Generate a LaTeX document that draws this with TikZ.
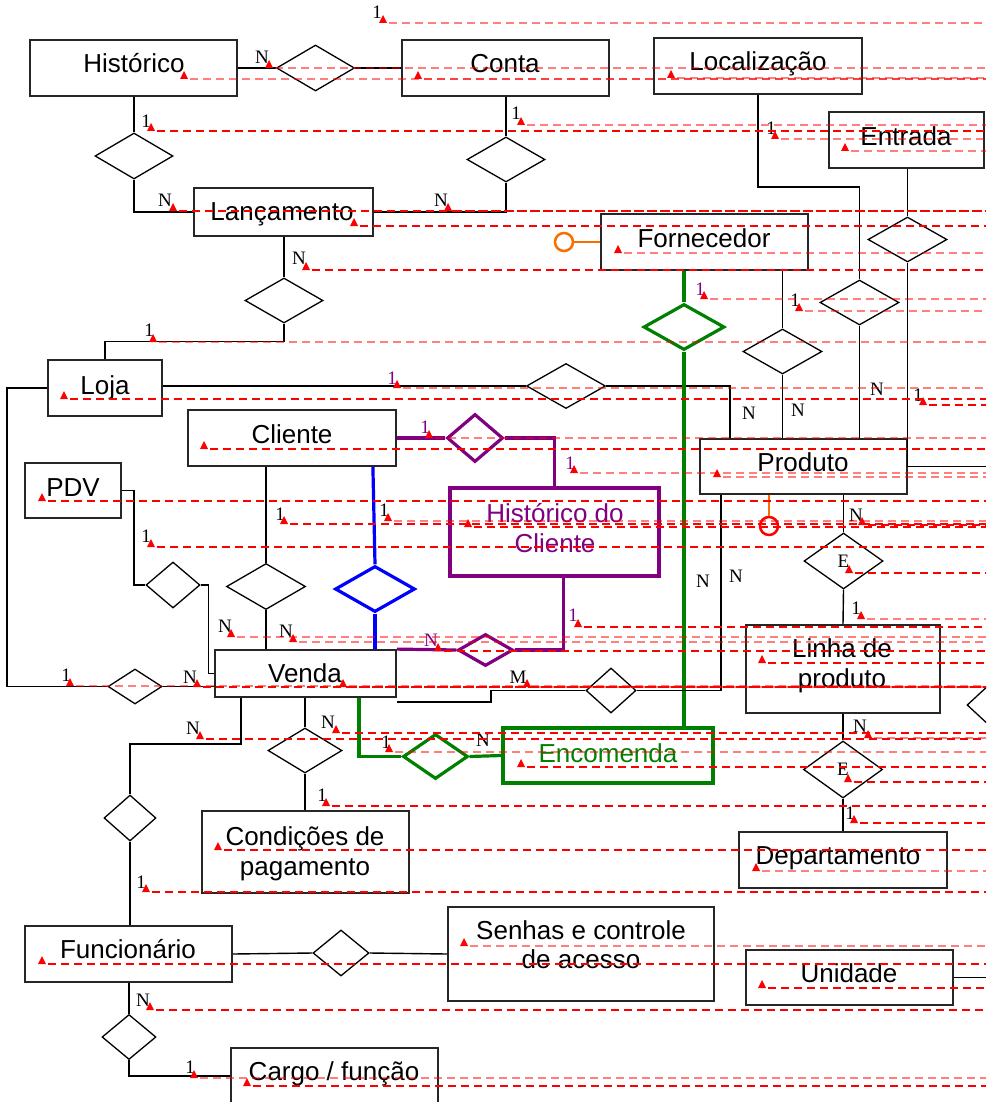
\documentclass[tikz,border=0pt]{standalone}
\usepackage{fontspec}
\usetikzlibrary{shapes.geometric,calc}
\newfontfamily\arialf{Liberation Sans}
\newfontfamily\timesf{Liberation Serif}
\definecolor{erpurple}{RGB}{128,0,128}
\definecolor{ergreen}{RGB}{0,128,0}
\definecolor{erblue}{RGB}{0,0,255}
\definecolor{erorange}{RGB}{250,110,0}
\definecolor{notedark}{RGB}{255,0,0}
\tikzset{
  ent/.style={draw=black!85, line width=1.8pt, rectangle, inner sep=0pt},
  rel/.style={draw=black, line width=1.3pt, diamond, inner sep=0pt,
              font=\timesf\fontsize{19}{19}\selectfont},
  wire/.style={line width=1.4pt},
  thick wire/.style={line width=3.2pt},
  etxt/.style={font=\arialf\fontsize{26}{30}\selectfont, inner sep=0pt, anchor=base},
  card/.style={font=\timesf\fontsize{19}{19}\selectfont, inner sep=0pt},
  notedash/.style={line width=1.3pt, dash pattern=on 8pt off 5pt},
  noteL/.style={draw=notedark, draw opacity=0.5},
  noteD/.style={draw=notedark},
}
\begin{document}
\begin{tikzpicture}[x=1pt, y=-1pt]
\useasboundingbox (0,0) rectangle (986,1102);
\fill[white] (0,0) rectangle (986,1102);
\clip (0,0) rectangle (986,1102);
\coordinate (rim) at (986,0);

% ---------- entities ----------
\node[ent, minimum width=207pt, minimum height=56pt] (hist) at (133.5,68) {};
\node[etxt] (t-hist) at (134,73) {Histórico};
\node[ent, minimum width=207pt, minimum height=56pt] (conta) at (505.5,68) {};
\node[etxt] (t-conta) at (505,73) {Conta};
\node[ent, minimum width=208pt, minimum height=56pt] (local) at (758,66) {};
\node[etxt] (t-local) at (758,71) {Localização};
\node[ent, minimum width=155pt, minimum height=56pt] (entrada) at (906.5,140) {};
\node[etxt] (t-entrada) at (906,146) {Entrada};
\node[ent, minimum width=179pt, minimum height=48pt] (lanc) at (283.5,212) {};
\node[etxt] (t-lanc) at (282,220) {Lançamento};
\node[ent, minimum width=207pt, minimum height=56pt] (forn) at (704.5,242) {};
\node[etxt] (t-forn) at (704,247) {Fornecedor};
\node[ent, minimum width=114pt, minimum height=56pt] (loja) at (105,388) {};
\node[etxt] (t-loja) at (105,394) {Loja};
\node[ent, minimum width=208pt, minimum height=56pt] (cliente) at (292,438) {};
\node[etxt] (t-cliente) at (292,443) {Cliente};
\node[ent, minimum width=96pt, minimum height=55pt] (pdv) at (73,490.5) {};
\node[etxt] (t-pdv) at (73,496) {PDV};
\node[ent, minimum width=207pt, minimum height=55pt] (produto) at (803.5,466.5) {};
\node[etxt] (t-produto) at (803,471) {Produto};
\node[ent, draw=erpurple, line width=3.2pt, minimum width=209pt, minimum height=88pt] (histcli) at (554.5,532) {};
\node[etxt, text=erpurple] (t-histcli-a) at (555,522) {Histórico do};
\node[etxt, text=erpurple] (t-histcli-b) at (555,552) {Cliente};
\node[ent, minimum width=194pt, minimum height=88pt] (linha) at (843,669) {};
\node[etxt] (t-linha-a) at (842,657) {Linha de};
\node[etxt] (t-linha-b) at (842,687) {produto};
\node[ent, minimum width=181pt, minimum height=47pt] (venda) at (305.5,673.5) {};
\node[etxt] (t-venda) at (305,682) {Venda};
\node[ent, draw=ergreen, line width=3.2pt, minimum width=210pt, minimum height=55pt] (encomenda) at (608,755.5) {};
\node[etxt, text=ergreen] (t-encomenda) at (608,762) {Encomenda};
\node[ent, minimum width=207pt, minimum height=82pt] (condicoes) at (305.5,852) {};
\node[etxt] (t-cond-a) at (305,845) {Condições de};
\node[etxt] (t-cond-b) at (305,875) {pagamento};
\node[ent, minimum width=208pt, minimum height=56pt] (depto) at (843,860) {};
\node[etxt] (t-depto) at (838,864) {Departamento};
\node[ent, minimum width=207pt, minimum height=56pt] (func) at (128.5,954) {};
\node[etxt] (t-func) at (128,958) {Funcionário};
\node[ent, minimum width=266pt, minimum height=94pt] (senhas) at (581,954) {};
\node[etxt] (t-senhas-a) at (581,939) {Senhas e controle};
\node[etxt] (t-senhas-b) at (581,968) {de acesso};
\node[ent, minimum width=207pt, minimum height=55pt] (unidade) at (849.5,977.5) {};
\node[etxt] (t-unidade) at (849,982) {Unidade};
\node[ent, minimum width=207pt, minimum height=56pt] (cargo) at (334.5,1076) {};
\node[etxt] (t-cargo) at (334,1080) {Cargo / função};

% ---------- relationships ----------
\node[rel, minimum width=78pt, minimum height=46pt] (d1) at (315.5,68) {};
\node[rel, minimum width=78pt, minimum height=46pt] (d2) at (134,156) {};
\node[rel, minimum width=78pt, minimum height=45pt] (d3) at (506,159.5) {};
\node[rel, minimum width=78pt, minimum height=45pt] (d4) at (284,300.5) {};
\node[rel, minimum width=79pt, minimum height=45pt] (d5) at (566,386) {};
\node[rel, minimum width=79pt, minimum height=45pt] (d6) at (782.5,351.5) {};
\node[rel, minimum width=79pt, minimum height=45pt] (d7) at (859.5,302.5) {};
\node[rel, minimum width=79pt, minimum height=45pt] (d8) at (907.5,239.5) {};
\node[rel, draw=ergreen, line width=3.2pt, minimum width=81pt, minimum height=46pt] (d9) at (684,327) {};
\node[rel, draw=erpurple, line width=3.2pt, minimum width=56pt, minimum height=48pt] (d10) at (475,438) {};
\node[rel, minimum width=54pt, minimum height=46pt] (d11) at (173,585) {};
\node[rel, minimum width=79pt, minimum height=46pt] (d12) at (266,586.5) {};
\node[rel, draw=erblue, line width=3.2pt, minimum width=80pt, minimum height=46pt] (d13) at (375,589) {};
\node[rel, draw=erpurple, line width=3.2pt, minimum width=55pt, minimum height=32pt] (d14) at (485.5,650) {};
\node[rel, minimum width=54pt, minimum height=35pt] (d15) at (135,686.5) {};
\node[rel, minimum width=50pt, minimum height=45pt] (d16) at (611,690.5) {};
\node[rel, minimum width=74pt, minimum height=45pt] (d17) at (305,750.5) {};
\node[rel, draw=ergreen, line width=3.2pt, minimum width=65pt, minimum height=45pt] (d18) at (435.5,756.5) {};
\node[rel, minimum width=52pt, minimum height=46pt] (d19) at (130,818) {};
\node[rel, minimum width=79pt, minimum height=56pt] (d20) at (843.5,561) {E};
\node[rel, minimum width=79pt, minimum height=57pt] (d21) at (843,769.5) {E};
\node[rel, minimum width=56pt, minimum height=46pt] (d22) at (341,953) {};
\node[rel, minimum width=54pt, minimum height=45pt] (d23) at (129,1037) {};
\node[rel, minimum width=54pt, minimum height=50pt] (d24) at (994,705) {};

% optional-attribute circles
\node[circle, draw=erorange, line width=2.5pt, minimum size=18pt, inner sep=0pt] (oc) at (564,242) {};
\node[circle, draw=notedark, line width=2.5pt, minimum size=18pt, inner sep=0pt] (rc) at (769,526) {};

% ---------- connectors ----------
\draw[wire] (hist.east) -- (d1.west);
\draw[wire] (d1.east) -- (conta.west);
\draw[wire] (d2.north |- hist.south) -- (d2.north);
\draw[wire] (d2.south) |- (lanc.west);
\draw[wire] (d3.north |- conta.south) -- (d3.north);
\draw[wire] (d3.south) |- (lanc.east);
\draw[wire] (d4.north |- lanc.south) -- (d4.north);
\draw[wire] (d4.south) -- ++(0,18) -| (loja.north);
\draw[wire] (loja.east |- d5.west) -- (d5.west);
\draw[wire] (d5.east) -| ($(produto.north west)+(31,0)$);
\draw[wire] (d6.north |- forn.south) -- (d6.north);
\draw[wire] (d6.south) -- (d6.south |- produto.north);
\draw[wire] (local.south) -- ++(0,92) -| (d7.north);
\draw[wire] (d7.south) -- (d7.south |- produto.north);
\draw[wire] (d8.north |- entrada.south) -- (d8.north);
\draw[wire] (d8.south) -- (d8.south |- produto.east) -- (produto.east -| rim);
\draw[thick wire, ergreen] (d9.north |- forn.south) -- (d9.north);
\draw[thick wire, ergreen] (d9.south) -- (d9.south |- encomenda.north);
\draw[erorange, line width=1.5pt] (oc.east) -- (oc.east -| forn.west);
\draw[thick wire, erpurple] (cliente.east) -- (d10.west);
\draw[thick wire, erpurple] (d10.east) -| (histcli.north);
\draw[wire] (d12.north |- cliente.south) -- (d12.north);
\draw[wire] (d12.south) -- (d12.south |- venda.north);
\draw[thick wire, erblue] ($(cliente.south east)+(-24,0)$) -- (d13.north);
\draw[thick wire, erblue] (d13.south) -- (d13.south |- venda.north);
\draw[wire] (pdv.east) -- ++(12,0) |- (d11.west);
\draw[wire] (d11.east) -- ++(8,0) |- (venda.west);
\draw[wire] (loja.west) -- ++(-40,0) |- (d15.west);
\draw[wire] (d15.east) -- (d15.east -| venda.west);
\draw[thick wire, erpurple] (venda.north east) -- (d14.west);
\draw[thick wire, erpurple] (d14.east) -| ($(histcli.south)+(9,0)$);
\draw[wire] ($(venda.south east)+(0,4)$) -- ++(94,0) |- (d16.west);
\draw[wire] (d16.east) -| ($(produto.south west)+(22,0)$);
\draw[wire] ($(venda.south west)+(27,0)$) -- ++(0,46) -| (d19.north);
\draw[wire] (d19.south) -- (d19.south |- func.north);
\draw[wire] (d17.north |- venda.south) -- (d17.north);
\draw[wire] (d17.south) -- (d17.south |- condicoes.north);
\draw[thick wire, ergreen] ($(venda.south east)+(-38,0)$) |- (d18.west);
\draw[thick wire, ergreen] (d18.east) -- (encomenda.west);
\draw[erorange, line width=1.5pt] (rc.north) -- (rc.north |- produto.south);
\draw[wire] (d20.north |- produto.south) -- (d20.north);
\draw[wire] (d20.south) -- (linha.north);
\draw[wire] (linha.south) -- (d21.north);
\draw[wire] (d21.south) -- (depto.north);
\draw[wire] (func.east) -- (d22.west);
\draw[wire] (d22.east) -- (senhas.west);
\draw[wire] (d23.north |- func.south) -- (d23.north);
\draw[wire] (d23.south) |- (cargo.west);
\draw[wire] (unidade.east) -- (unidade.east -| rim);

% ---------- cardinalities ----------
\node[card] (c1) at (377,12) {1};
\node[card] (c2) at (262,57) {N};
\node[card] (c3) at (146,121) {1};
\node[card] (c4) at (516,113) {1};
\node[card] (c5) at (771,128) {1};
\node[card] (c6) at (165,200) {N};
\node[card] (c7) at (441,200) {N};
\node[card] (c8) at (299,258) {N};
\node[card] (c9) at (149,330) {1};
\node[card, text=erpurple] (c10) at (392,378) {1};
\node[card, text=erpurple] (c11) at (700,289) {1};
\node[card] (c12) at (795,300) {1};
\node[card] (c13) at (749,413) {N};
\node[card] (c14) at (798,410) {N};
\node[card] (c15) at (877,389) {N};
\node[card] (c16) at (918,395) {1};
\node[card, text=erpurple] (c17) at (425,427) {1};
\node[card, text=erpurple] (c18) at (570,463) {1};
\node[card] (c19) at (280,514) {1};
\node[card] (c20) at (384,510) {1};
\node[card] (c21) at (146,536) {1};
\node[card] (c22) at (856,515) {N};
\node[card] (c23) at (703,581) {N};
\node[card] (c24) at (736,576) {N};
\node[card] (c25) at (856,608) {1};
\node[card, text=erpurple] (c26) at (573,615) {1};
\node[card] (c27) at (225,626) {N};
\node[card] (c28) at (286,631) {N};
\node[card, text=erpurple] (c29) at (431,640) {N};
\node[card] (c30) at (66,675) {1};
\node[card] (c31) at (190,677) {N};
\node[card] (c32) at (518,677) {M};
\node[card] (c33) at (193,728) {N};
\node[card] (c34) at (328,722) {N};
\node[card] (c35) at (386,742) {1};
\node[card] (c36) at (483,740) {N};
\node[card] (c37) at (860,726) {N};
\node[card] (c38) at (322,795) {1};
\node[card] (c39) at (850,813) {1};
\node[card] (c40) at (141,882) {1};
\node[card] (c41) at (143,1000) {N};
\node[card] (c42) at (190,1067) {1};

% ---------- review markers ----------
\foreach \x/\y/\s in {383/23/L, 269/68/L, 184/79/L, 418/79/L, 671/78/L,
  151/131/D, 521/125/L, 775/139/L, 845/151/L, 173/211/D, 448/211/D,
  354/226/D, 306/270/D, 618/253/L, 153/342/L, 64/399/D, 397/388/L,
  204/449/D, 429/438/L, 42/501/D, 284/524/D, 388/521/L, 468/527/D,
  151/547/D, 704/299/L, 799/311/L, 923/405/D, 574/473/L, 717/477/L,
  862/525/D, 849/573/D, 861/619/L, 578/627/D, 231/637/L, 293/642/L,
  438/651/D, 762/663/D, 343/687/D, 527/687/L, 70/686/L, 197/687/D,
  200/739/D, 336/733/D, 389/752/L, 868/738/L, 521/767/D, 848/782/D,
  326/806/D, 854/823/D, 218/850/D, 146/892/D, 756/871/L, 464/946/L,
  42/964/D, 762/988/D, 150/1010/D, 194/1078/L, 247/1086/D}{
  \draw[notedash, note\s] (\x+6,\y) -- (986,\y);
  \fill[notedark] (\x-4,\y) -- (\x+4,\y) -- (\x,\y-8) -- cycle;
}
\end{tikzpicture}
\end{document}
